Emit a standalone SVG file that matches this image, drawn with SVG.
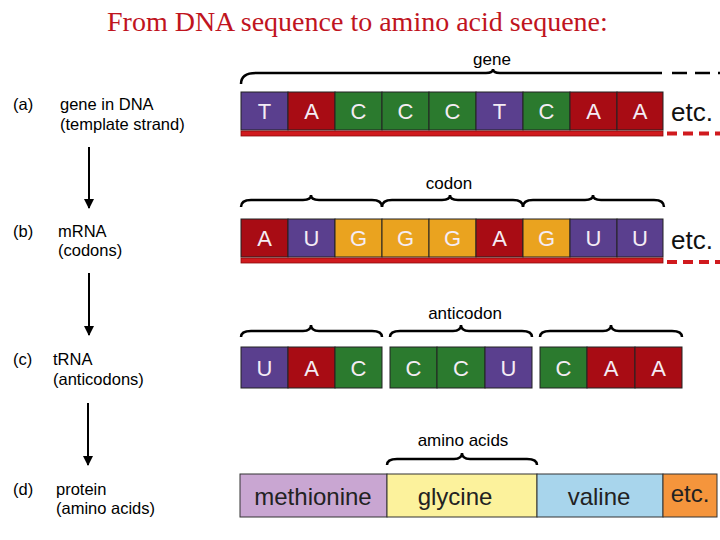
<svg xmlns="http://www.w3.org/2000/svg" width="720" height="540" viewBox="0 0 720 540">
<defs>
<style>
.title{font-family:"Liberation Serif",serif;font-size:28px;fill:#C0141E}
.lbl{font-family:"Liberation Sans",Arial,sans-serif;font-size:16.5px;fill:#000}
.sm{font-family:"Liberation Sans",Arial,sans-serif;font-size:17px;fill:#000;text-anchor:middle}
.b{font-family:"Liberation Sans",Arial,sans-serif;font-size:22px;fill:#F4ECF4;text-anchor:middle}
.etc{font-family:"Liberation Sans",Arial,sans-serif;font-size:26px;fill:#111}
.aa{font-family:"Liberation Sans",Arial,sans-serif;font-size:24px;fill:#222;text-anchor:middle}
.P{fill:#5A3F8E;stroke:#222;stroke-width:1}
.R{fill:#A80C14;stroke:#222;stroke-width:1}
.G{fill:#2B7A2E;stroke:#222;stroke-width:1}
.Y{fill:#EAA31F;stroke:#222;stroke-width:1}
.bar{fill:#D01A1E;stroke:#8A0A0A;stroke-width:0.8}
.brace{fill:none;stroke:#000;stroke-width:2.5}
.arr{stroke:#000;stroke-width:2}
</style>
<marker id="ah" markerWidth="10" markerHeight="10" refX="9" refY="5" orient="auto" markerUnits="userSpaceOnUse">
<path d="M0,0 L10,5 L0,10 z" fill="#000"/>
</marker>
</defs>
<rect width="720" height="540" fill="#fff"/>
<text class="title" x="107" y="31">From DNA sequence to amino acid sequene:</text>

<g id="label-a"><text class="lbl" x="13" y="110">(a)</text><text class="lbl" x="60" y="110">gene in DNA</text><text class="lbl" x="60" y="130">(template strand)</text></g>
<g id="label-b"><text class="lbl" x="13" y="237">(b)</text><text class="lbl" x="58" y="237">mRNA</text><text class="lbl" x="58" y="256">(codons)</text></g>
<g id="label-c"><text class="lbl" x="13" y="365">(c)</text><text class="lbl" x="53" y="365">tRNA</text><text class="lbl" x="53" y="385">(anticodons)</text></g>
<g id="label-d"><text class="lbl" x="13" y="495">(d)</text><text class="lbl" x="56" y="495">protein</text><text class="lbl" x="56" y="514">(amino acids)</text></g>

<g id="connectors">
<path class="arr" d="M89,147 L89,208" marker-end="url(#ah)"/>
<path class="arr" d="M89,273 L89,335" marker-end="url(#ah)"/>
<path class="arr" d="M88,403 L88,465" marker-end="url(#ah)"/>
</g>

<g id="dna">
<path class="brace" d="M241,84 Q241,73 256,73 L486,73 Q493,73 493,69 Q493,73 500,73 L662,73"/>
<path d="M672,73 L720,73" stroke="#000" stroke-width="2.5" stroke-dasharray="15,8" fill="none"/>
<text class="sm" x="492" y="65">gene</text>
<rect class="P" x="241" y="92" width="47" height="38"/>
<rect class="R" x="288" y="92" width="47" height="38"/>
<rect class="G" x="335" y="92" width="47" height="38"/>
<rect class="G" x="382" y="92" width="47" height="38"/>
<rect class="G" x="429" y="92" width="47" height="38"/>
<rect class="P" x="476" y="92" width="47" height="38"/>
<rect class="G" x="523" y="92" width="47" height="38"/>
<rect class="R" x="570" y="92" width="47" height="38"/>
<rect class="R" x="617" y="92" width="46" height="38"/>
<text class="b" x="264.5" y="119">T</text><text class="b" x="311.5" y="119">A</text><text class="b" x="358.5" y="119">C</text><text class="b" x="405.5" y="119">C</text><text class="b" x="452.5" y="119">C</text><text class="b" x="499.5" y="119">T</text><text class="b" x="546.5" y="119">C</text><text class="b" x="593.5" y="119">A</text><text class="b" x="640" y="119">A</text>
<rect class="bar" x="241" y="131" width="422" height="5"/>
<path d="M667,133.5 L720,133.5" stroke="#D01A1E" stroke-width="4" stroke-dasharray="10,6"/>
<text class="etc" x="671" y="121">etc.</text>
</g>

<g id="mrna">
<path class="brace" d="M241,207 Q241,200 251,200 L303,200 Q311,200 311,195 Q311,200 319,200 L372,200 Q382,200 382,207"/>
<path class="brace" d="M382,207 Q382,200 392,200 L442,200 Q450,200 450,195 Q450,200 458,200 L513,200 Q523,200 523,207"/>
<path class="brace" d="M523,207 Q523,200 533,200 L585,200 Q593,200 593,195 Q593,200 601,200 L654,200 Q664,200 664,207"/>
<text class="sm" x="449" y="189">codon</text>
<rect class="R" x="241" y="219" width="47" height="38"/>
<rect class="P" x="288" y="219" width="47" height="38"/>
<rect class="Y" x="335" y="219" width="47" height="38"/>
<rect class="Y" x="382" y="219" width="47" height="38"/>
<rect class="Y" x="429" y="219" width="47" height="38"/>
<rect class="R" x="476" y="219" width="47" height="38"/>
<rect class="Y" x="523" y="219" width="47" height="38"/>
<rect class="P" x="570" y="219" width="47" height="38"/>
<rect class="P" x="617" y="219" width="46" height="38"/>
<text class="b" x="264.5" y="246">A</text><text class="b" x="311.5" y="246">U</text><text class="b" x="358.5" y="246">G</text><text class="b" x="405.5" y="246">G</text><text class="b" x="452.5" y="246">G</text><text class="b" x="499.5" y="246">A</text><text class="b" x="546.5" y="246">G</text><text class="b" x="593.5" y="246">U</text><text class="b" x="640" y="246">U</text>
<rect class="bar" x="241" y="258" width="422" height="5"/>
<path d="M667,262 L720,262" stroke="#D01A1E" stroke-width="4" stroke-dasharray="10,6"/>
<text class="etc" x="671" y="249">etc.</text>
</g>

<g id="trna">
<path class="brace" d="M241,337 Q241,331 251,331 L303,331 Q311,331 311,325 Q311,331 319,331 L372,331 Q382,331 382,337"/>
<path class="brace" d="M390,337 Q390,331 400,331 L453,331 Q461,331 461,325 Q461,331 469,331 L522,331 Q532,331 532,337"/>
<path class="brace" d="M540,337 Q540,331 550,331 L603,331 Q611,331 611,325 Q611,331 619,331 L672,331 Q682,331 682,337"/>
<text class="sm" x="465" y="319">anticodon</text>
<rect class="P" x="241" y="347" width="47" height="41"/>
<rect class="R" x="288" y="347" width="47" height="41"/>
<rect class="G" x="335" y="347" width="47" height="41"/>
<rect class="G" x="390" y="347" width="47" height="41"/>
<rect class="G" x="437" y="347" width="48" height="41"/>
<rect class="P" x="485" y="347" width="47" height="41"/>
<rect class="G" x="540" y="347" width="47" height="41"/>
<rect class="R" x="587" y="347" width="48" height="41"/>
<rect class="R" x="635" y="347" width="47" height="41"/>
<text class="b" x="264.5" y="376">U</text><text class="b" x="311.5" y="376">A</text><text class="b" x="358.5" y="376">C</text><text class="b" x="413.5" y="376">C</text><text class="b" x="461" y="376">C</text><text class="b" x="508.5" y="376">U</text><text class="b" x="563.5" y="376">C</text><text class="b" x="611" y="376">A</text><text class="b" x="658.5" y="376">A</text>
</g>

<g id="protein">
<path class="brace" d="M387,465 Q387,459 397,459 L454,459 Q462,459 462,453 Q462,459 470,459 L527,459 Q537,459 537,465"/>
<text class="sm" x="463" y="446">amino acids</text>
<rect x="240" y="474" width="147" height="43" fill="#C9A6D2" stroke="#333" stroke-width="1"/>
<rect x="387" y="474" width="150" height="43" fill="#FCF29C" stroke="#333" stroke-width="1"/>
<rect x="537" y="474" width="126" height="43" fill="#A8D5EC" stroke="#333" stroke-width="1"/>
<rect x="663" y="474" width="54" height="43" fill="#F5953C" stroke="#333" stroke-width="1"/>
<text class="aa" x="313" y="505">methionine</text>
<text class="aa" x="455" y="505">glycine</text>
<text class="aa" x="599" y="505">valine</text>
<text class="aa" x="690" y="502">etc.</text>
</g>
</svg>
